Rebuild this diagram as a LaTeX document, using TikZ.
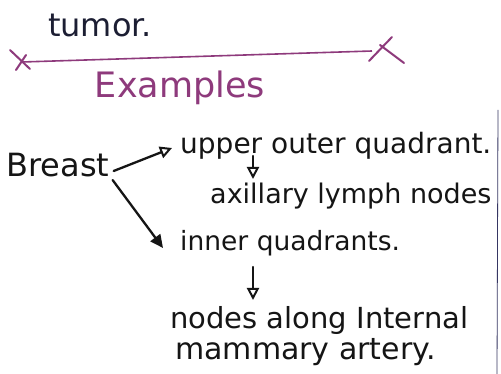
\documentclass[tikz,border=0pt]{standalone}
\usepackage{fontspec}
\setmainfont{DejaVu Sans}
\usetikzlibrary{arrows.meta}
\definecolor{ink}{HTML}{151515}
\definecolor{navy}{HTML}{1C1E33}
\definecolor{plum}{HTML}{8E3A7C}
\tikzset{
  hand/.style={inner sep=0pt, text=ink},
  pen/.style={draw=ink, line width=2.3pt, line cap=round},
  openarrow/.style={pen, -{Triangle[open, length=12pt, width=12pt, line width=2pt]}},
  fullarrow/.style={pen, -{Triangle[length=13pt, width=12pt]}},
}
\begin{document}
\begin{tikzpicture}[x=1pt, y=-1pt]
\useasboundingbox[fill=white] (0,0) rectangle (501,374);
% header
\node[hand, text=navy, font=\fontsize{32}{34}\selectfont] (tumor) at (100,25) {tumor.};
\coordinate (lineL) at (22,62);
\coordinate (lineR) at (372,51);
\draw[plum, line width=1.6pt] (lineL) -- (lineR);
\draw[plum, line width=2pt, line cap=round] (10,50) -- (30,69) (26,55) -- (16,70);
\draw[plum, line width=2pt, line cap=round] (369,61) -- (392,37) (380,45) -- (404,63);
\node[hand, text=plum, font=\fontsize{35}{38}\selectfont] (examples) at (180,88) {Examples};
% body
\node[hand, font=\fontsize{32}{34}\selectfont] (breast) at (58,165) {Breast};
\node[hand, anchor=west, font=\fontsize{28}{30}\selectfont] (upper) at (180,146) {upper outer quadrant.};
\node[hand, anchor=west, font=\fontsize{27}{30}\selectfont] (axillary) at (210,196) {axillary lymph nodes};
\node[hand, anchor=west, font=\fontsize{26.5}{28}\selectfont] (inner) at (180,243) {inner quadrants.};
\node[hand, anchor=west, font=\fontsize{29}{32}\selectfont] (nodes) at (170,320) {nodes along Internal};
\node[hand, anchor=west, font=\fontsize{30}{32}\selectfont] (mammary) at (175,352) {mammary artery.};
\draw[openarrow] ([shift={(4,6)}]breast.east) -- ([shift={(-8,2)}]upper.west);
\draw[fullarrow] ([shift={(3,3)}]breast.south east) -- ([shift={(-17,5)}]inner.west);
\draw[openarrow] ([shift={(73,10)}]upper.west) -- ([shift={(73,33)}]upper.west);
\draw[openarrow] ([shift={(73,24)}]inner.west) -- ([shift={(73,57)}]inner.west);
% page edge
\draw[gray!70!blue!60!black, line width=0.8pt] (498,110) -- (497,374);
\end{tikzpicture}
\end{document}
